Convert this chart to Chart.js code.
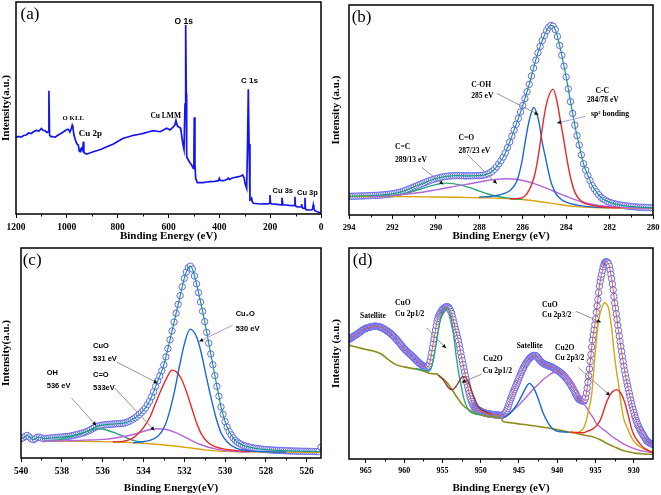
<!DOCTYPE html>
<html lang="en">
<head>
<meta charset="UTF-8" />
<meta name="viewport" content="width=device-width, initial-scale=1.0" />
<title>XPS spectra (a)-(d)</title>
<script src="https://cdn.jsdelivr.net/npm/chart.js"></script>
<style>
  body { margin: 0; background: #fff; }
  #fig { position: relative; width: 661px; height: 495px; overflow: hidden; background: #fff; }
  #fig canvas { position: absolute; }
</style>
</head>
<body>
<div id="fig">
  <canvas id="chartA" width="330" height="243" style="left:0;top:0;width:330px;height:243px"></canvas>
  <canvas id="chartB" width="331" height="243" style="left:330px;top:0;width:331px;height:243px"></canvas>
  <canvas id="chartC" width="330" height="252" style="left:0;top:243px;width:330px;height:252px"></canvas>
  <canvas id="chartD" width="331" height="252" style="left:330px;top:243px;width:331px;height:252px"></canvas>
</div>

<script>
// ---------- data (intensity in arbitrary units) ----------

// (a) survey scan, [binding energy, intensity]
const surveyScan = [
  [1200,76.5],[1190,77.5],[1180,76.8],[1170,78.5],[1160,79],[1150,81],[1140,80.5],[1130,82.5],[1120,83.5],[1110,83],
  [1100,85.5],[1095,84],[1090,83.5],[1085,83],[1078,81.5],[1073,82.5],[1070.5,123.3],[1068,79],[1063,77.3],[1055,77.5],
  [1046,76.7],[1037,78.5],[1027,80],[1017,81.5],[1007,83.3],[1000,84.5],[994,84.7],[988,82],[983,85],[979,88.7],
  [976,86],[972,79],[968,75.5],[964,72.3],[960,70],[955,69],[951,63],[948,62.3],[945,65],[942,66],
  [938,64],[935,72.3],[933,62],[929.8,60.7],[922,60],[910,61],[896,62.3],[880,63.5],[865,64.8],[856,65.7],
  [840,67.5],[817,70],[800,72.5],[790,74],[778,75.7],[760,77],[738,78.7],[720,79.5],[699,80.7],[680,82],
  [660,83.3],[640,82.5],[633,82.3],[620,84],[607,85.7],[594,84],[585,86],[575,89],[570.6,93.3],[565,88],
  [561,87.3],[552,85.7],[548,78],[544,70.7],[539,64.7],[535,110],[532.4,189],[530,120],[528.5,57.3],[522,54],
  [515,51],[509,49],[502.5,45.7],[500,60],[498.6,96.7],[496,50],[493,35.7],[486.7,31.3],[475,31.5],[463,31.3],
  [450,32],[436.8,32.3],[420,32.5],[404,33.3],[400,35.7],[397,33.5],[384.5,33.3],[370,34.5],[365,36],[360,34.5],
  [351.5,35.7],[340,36.5],[325,37.3],[315,38],[308,39],[302,36],[299,30.7],[292.5,25.7],[289,70],[286,124.7],
  [283,70],[279.5,14],[276,14.5],[273,15.7],[270,12],[266.5,10.7],[255,10.5],[240,10],[220,10.2],[207,10],
  [203,11],[200.8,19],[198.5,10.5],[194,10],[180,9.8],[165,9.3],[157,9.2],[153.6,16.3],[150,9.2],[140,9],
  [125,8.6],[109,8.3],[104.5,9],[102.5,17.3],[100.5,8],[95.8,7.3],[85,7],[78,7.2],[76,10],[74,6.5],
  [69.8,5.7],[65,6],[63,16.3],[61,5],[56.4,4],[45,4],[36.7,4],[33,5],[30.4,9],[28,5.5],
  [23.8,3.3],[15,2.3],[4,1.3],[0,1]
];

// (b) C 1s: measured points every 0.1 eV from 294.0 eV down
const c1sStart = 294.0, c1sStep = 0.1;
const c1sMeasured = [
  19.0,19.0,19.1,19.1,19.2,19.3,19.3,19.4,19.5,19.6,
  19.7,19.8,19.9,20.0,20.1,20.3,20.5,20.7,20.9,21.2,
  21.5,21.9,22.4,22.9,23.5,24.2,25.0,25.8,26.7,27.6,
  28.5,29.4,30.3,31.2,32.1,33.0,33.9,34.7,35.5,36.2,
  36.9,37.5,38.0,38.5,38.9,39.2,39.5,39.7,39.8,39.9,
  40.0,39.9,39.8,39.7,39.7,39.7,39.7,39.8,39.9,40.0,
  40.0,40.2,40.5,41.0,41.8,42.9,44.4,46.4,49.0,52.0,
  55.0,58.8,63.0,68.3,74.0,80.0,86.0,92.0,98.0,104.5,
  111,118,125,132.5,141,149,157,164.5,171,177,
  182,187,190.5,192.3,191.5,188,181,172,162,151,
  140,128,115,103,91,80.5,71,61,52,45.5,
  40,35,30,26.5,23.5,20.5,18,16.4,15,13.8,
  12.8,12.1,11.5,11,10.5,10.1,9.7,9.4,9.1,8.8,
  8.6,8.4,8.2,8.0,7.9,7.8,7.7,7.6,7.5,7.4,
  7.3
];
const c1sBackground = [[294,18.7],[292,18.7],[290,18.3],[289,18],[288,17.5],[287,17],[286.5,16.3],[286,15.7],[285.5,14.5],[285,13],[284.5,11.3],[284,9.7],[283.5,8.5],[283,7.7],[282,7.3],[281,7],[280,6.8]];
const c1sCeqC = [[292.5,19.2],[292,19.8],[291.5,21.5],[291,24.3],[290.5,27.8],[290,30.8],[289.6,32.3],[289.2,31.8],[288.8,30],[288.4,27.5],[288,24.3],[287.6,21.3],[287.2,19],[286.8,17.5],[286.4,16.5],[286,15.8]];
const c1sCeqO = [[293,18.8],[292,19.7],[291,22],[290,25.5],[289,29.5],[288,33.5],[287.5,35.5],[287,36.5],[286.7,36.7],[286.3,36.2],[286,35],[285.5,32],[285,28],[284.5,23.5],[284,19],[283.5,14.8],[283,11.7],[282.5,9.6],[282,8.4],[281.5,7.7],[281,7.3],[280,7]];
const c1sCOH = [[288,18.2],[287.5,18.8],[287.2,19.8],[286.88,21.7],[286.57,25],[286.26,35],[286.03,55],[285.88,75],[285.71,95],[285.49,109],[285.26,95],[285.11,75],[284.92,55],[284.72,35],[284.55,25],[284.42,20],[284.2,15.5],[284,13],[283.5,10],[283,8.5],[282.5,7.8],[282,7.3]];
const c1sCC = [[286.6,16.5],[286.25,16.8],[285.95,18.3],[285.71,25],[285.48,38],[285.32,55],[285.18,75],[285.03,98],[284.88,115],[284.6,127.7],[284.42,115],[284.26,95],[284.1,75],[283.95,55],[283.8,38],[283.57,21.7],[283.26,13.3],[282.85,10],[282.4,8.3],[282,7.5],[281.5,7.2]];

// (c) O 1s: measured points every 0.1 eV from 540.0 eV down
const o1sStart = 540.0, o1sStep = 0.1;
const o1sMeasured = [
  19.7,20.5,22.0,23.0,21.5,19.5,18.7,19.5,21.0,21.3,
  20.5,19.7,19.8,20.0,20.2,20.4,20.6,20.8,21.0,21.2,
  21.4,21.6,21.8,22.0,22.3,22.7,23.2,23.7,24.2,24.7,
  25.3,26.0,26.8,27.7,28.7,29.8,31.0,32.0,32.7,33.2,
  33.5,33.8,34.0,34.2,34.4,34.6,34.8,34.9,35.0,35.2,
  35.4,35.8,36.5,37.4,38.5,39.7,41.1,42.7,44.4,46.3,
  48.5,51.0,54.5,58.0,62.5,67.5,73.0,78.5,83.5,89.0,
  95,103,111.5,120.5,129.5,138.5,147.5,156.5,165.5,174.5,
  183,189.5,194,195.5,192.5,185.5,177.5,168.5,159,149.5,
  139,128,117,106,95,84,73,63,52,44.5,
  37,31.5,27,23.5,20.5,18,16.2,14.8,13.7,12.8,
  12.2,11.6,11.1,10.6,10.2,9.8,9.5,9.2,9.0,8.8,
  8.6,8.4,8.3,8.1,8.0,7.9,7.8,7.7,7.6,7.5,
  7.4,7.3,7.2,7.2,7.1,7.0,7.0,6.9,6.9,6.8,
  6.8,6.7,6.7,6.6,6.6,6.5,6.5,11
];
const o1sBackground = [[538.9,17.3],[537,17],[536,16.7],[535,16],[534,15],[533,13.3],[532.5,12.3],[532,11],[531.5,9.7],[531,8.3],[530.5,7.3],[530,6.7],[529,6.3],[527,6],[525.3,5.7]];
const o1sOH = [[538.9,17.3],[538.2,18.5],[537.76,20.7],[537.3,23],[536.94,25.7],[536.6,28.2],[536.3,29.7],[536,29.5],[535.64,27.3],[535.3,24.8],[535,22.3],[534.7,19.5],[534.5,18],[534.2,16.6],[534,16]];
const o1sCeqO = [[538.9,17.3],[537.76,17.5],[536.9,18.2],[536.13,18.7],[535.3,20.7],[534.5,24],[533.85,28],[533.4,29.8],[532.88,29],[532.39,25.7],[531.9,20.7],[531.25,14],[530.44,9],[529.6,6.7],[528.8,6]];
const o1sCuO = [[535.5,16.3],[535,17],[534.6,19.5],[534.3,24],[534,31],[533.7,41],[533.4,56],[533.1,71],[532.85,82],[532.6,89.5],[532.4,88],[532.15,81],[531.9,68],[531.65,52],[531.4,36],[531.15,24],[530.85,16],[530.5,11.5],[530,9],[529.3,7.3],[528.5,6.5]];
const o1sCu2O = [[534.5,15.5],[534.18,16.3],[533.69,18],[533.28,22.3],[532.96,32.3],[532.72,47.3],[532.47,69],[532.23,94],[531.98,117.3],[531.71,131.3],[531.41,124],[531.17,107.3],[530.93,84],[530.68,60.7],[530.44,40.7],[530.2,25.7],[529.87,15.7],[529.46,10],[528.8,7.3],[528,6.3],[527,6]];

// (d) Cu 2p: measured points every 0.1 eV from 967.2 eV down
const cu2pStart = 967.2, cu2pStep = 0.1;
const cu2pMeasured = [
  120.7,121.3,121.8,122.3,122.8,123.3,123.8,124.3,124.8,125.2,
  125.7,126.2,126.8,127.4,128.0,128.6,129.2,129.7,130.2,130.7,
  131.1,131.5,131.9,132.2,132.5,132.7,132.9,133.1,133.3,133.5,
  133.7,133.8,133.9,134.0,134.0,134.0,133.9,133.8,133.7,133.5,
  133.3,133.0,132.7,132.4,132.0,131.6,131.2,130.7,130.2,129.7,
  129.2,128.7,128.1,127.5,126.9,126.2,125.5,124.8,124.0,123.2,
  122.4,121.5,120.7,119.8,118.9,118.0,117.1,116.1,115.2,114.2,
  113.3,112.3,111.5,110.7,109.9,109.1,108.3,107.6,106.9,106.2,
  105.6,104.9,104.2,103.5,102.7,101.9,101.1,100.3,99.5,98.7,
  98.0,97.3,96.6,96.0,95.4,94.8,94.3,93.8,93.3,92.9,
  92.6,92.4,92.5,93.0,94.0,96.0,99.0,103.0,107.5,112.3,
  116.8,121.3,125.7,130.2,134.6,139.0,141.8,144.0,145.8,147.3,
  148.6,149.8,150.8,151.6,152.3,152.9,153.3,153.6,153.7,153.6,
  153.0,152.0,150.7,149.0,147.0,144.0,141.0,137.5,134.0,131.0,
  128.0,125.0,122.0,119.0,115.0,111.0,107.0,103.0,99.2,95.4,
  91.6,87.8,84.0,80.2,76.5,73.0,69.6,66.4,63.4,60.7,
  58.2,56.0,54.3,53.0,52.0,51.3,50.8,50.3,49.9,49.5,
  49.1,48.7,48.3,47.9,47.5,47.1,46.8,46.5,46.3,46.1,
  45.9,45.7,45.5,45.4,45.3,45.2,45.1,45.0,44.9,44.8,
  44.7,44.6,44.5,44.4,44.3,44.2,44.1,44.0,44.0,44.0,
  44.2,44.5,45.0,45.7,46.5,47.5,49.0,51.0,53.2,55.6,
  58.0,60.2,62.3,64.3,66.3,68.3,70.2,72.1,73.9,75.7,
  77.6,79.6,81.6,83.5,85.4,87.2,89.0,90.7,92.3,93.8,
  95.2,96.5,97.7,98.8,99.8,100.8,101.7,102.5,103.2,103.8,
  104.2,104.5,104.6,104.5,104.2,103.7,102.9,101.9,100.8,99.8,
  98.9,98.1,97.4,96.8,96.3,95.9,95.5,95.1,94.8,94.5,
  94.2,93.9,93.6,93.3,93.0,92.7,92.3,91.9,91.4,90.9,
  90.4,89.9,89.4,88.9,88.4,87.9,87.3,86.7,86.0,85.3,
  84.6,83.8,82.9,82.0,81.0,80.0,79.0,78.0,76.9,75.7,
  74.4,73.1,71.7,70.3,68.8,67.3,65.8,64.3,62.8,61.4,
  60.5,59.9,59.5,59.1,58.7,58.4,58.3,58.6,60.0,62.5,
  66.5,71.5,77.5,84.0,91.0,98.5,105.5,113.0,120.0,125.5,
  130.5,135.5,141.5,148.0,154.5,161.0,168.0,174.5,179.5,183.5,
  186.5,190.5,194.0,196.5,198.2,199.0,199.2,198.8,198.0,197.0,
  194.5,190.7,186.5,182.0,176.5,170.7,164.0,157.5,152.0,146.5,
  141.0,135.0,129.5,124.0,118.5,113.5,108.5,103.5,98.5,93.5,
  89.0,85.0,81.0,77.0,73.5,70.0,66.5,63.0,59.5,56.0,
  53.0,50.0,47.0,44.0,41.5,39.0,37.0,35.0,33.0,31.3,
  29.7,28.3,27.0,25.7,24.4,23.2,22.0,20.5,19.3,18.4,
  17.6,17.0,16.5,16.0,15.6,15.3,15.0,14.8,14.6,14.4
];
const cu2pBackground = [[967.2,115],[966,112.5],[965,110.5],[964,109],[963,106],[962,100],[961,95],[960,93],[959,91.5],[958.4,90.7],[957.5,88.8],[956.6,86.3],[955.7,85.7],[955.3,83],[954.4,77.3],[953.1,62.3],[952.3,54],[951.4,49],[950.5,46],[949.7,44],[948.8,43],[947.3,40.7],[947.1,38],[946.5,37],[945.3,35.7],[944,34.5],[942.7,33],[941.4,31.5],[940.1,29.7],[938.8,27.7],[937.5,25.7],[936.4,24],[935.3,22.3],[934.4,19.5],[933.5,15.7],[932.6,12.5],[931.8,9.7],[930.7,7.3],[929.6,5.7],[928.5,5],[927.5,4.7]];
const cu2pCuO12 = [[958.5,91.5],[957.5,89.5],[956.8,88.5],[956.5,91],[956.2,100],[955.9,113],[955.6,127],[955.3,140],[955,148.5],[954.7,151.5],[954.4,152.5],[954.1,149.5],[953.8,140],[953.5,123],[953.2,104],[952.9,88],[952.5,72],[952.2,61],[951.8,52.5],[951.4,48],[951,46],[950.5,45],[950,44.5]];
const cu2pCu2O12 = [[955.5,84.5],[955,81],[954.6,76.5],[954.2,72],[953.7,70],[953.3,72.5],[952.9,77.3],[952.6,81.5],[952.3,83],[952,82.5],[951.8,80.7],[951.5,75.5],[951.2,69],[950.8,61],[950.5,55.7],[950.1,51],[949.7,49],[949.2,47],[948.5,45]];
const cu2pSatA = [[947,42],[946.5,44],[946,47.5],[945.5,52.5],[945,58.5],[944.6,64.5],[944.2,70.5],[943.9,74.5],[943.65,76.3],[943.4,75],[943.1,72],[942.8,67],[942.5,61],[942.2,54],[941.9,47.5],[941.6,42.3],[941.2,36.5],[940.8,32],[940.3,29],[939.8,27.8],[939.2,27.3],[938.5,27]];
const cu2pSatB = [[947.3,40.7],[946.6,44],[946,47.5],[945.2,53],[944.4,59.5],[943.7,65.5],[943.1,70.7],[942.4,76],[941.8,80.5],[941.1,84.5],[940.5,87.3],[940,88],[939.5,87.5],[939,85.5],[938.5,81.5],[938,76.5],[937.5,70],[937,63.5],[936.6,57],[936.1,51],[935.7,46],[935.3,41.5],[934.9,36],[934.2,31],[933.5,27],[932.9,23],[932.2,19.5],[931.2,14.5],[930.2,11.3],[929.4,9],[928.5,7.5],[927.5,6.3]];
const cu2pCuO32 = [[938,26],[937.5,26.3],[937,28],[936.6,31],[936.2,39],[935.9,50],[935.5,65.7],[935.3,84],[935.1,102.3],[934.9,120],[934.7,135.7],[934.45,146],[934.2,152.3],[934,156],[933.8,158],[933.55,156],[933.3,152.3],[933.1,143],[932.9,132.3],[932.7,117],[932.5,102.3],[932.25,88],[932,75.7],[931.8,63],[931.6,52.3],[931.3,40],[930.9,32.3],[930.5,25],[930.1,19],[929.5,14],[928.8,10.7],[928.1,8.5],[927.5,7.3]];
const cu2pCu2O32 = [[938.3,27.3],[937.5,26.8],[936.6,26.5],[935.9,28.5],[935.3,30.7],[934.8,34.5],[934.4,39],[934.1,45],[933.8,52.3],[933.5,58.5],[933.1,65],[932.7,68.5],[932.24,70],[931.9,68.5],[931.6,65],[931.2,57.5],[930.9,49],[930.6,40],[930.3,30.7],[929.9,23],[929.4,17.3],[929,13.5],[928.6,10.7],[928,8],[927.5,6.3]];

// ---------- styling ----------
const SERIF = '"Liberation Serif", "Times New Roman", serif';
const SANS = '"Liberation Sans", Arial, sans-serif';
const CIRCLE = '#6464f0';
const FIT = '#17998a';
const GREEN = '#2ca67b';
const PURPLE = '#b466d8';
const BLUE = '#1b68d3';
const RED = '#e8282b';
const GOLD = '#d9a40c';
const OLIVE = '#8e8e1c';
const BROWN = '#8a3a3a';
const GRAY = '#8a8a8a';
const LAV = '#a392da';

Chart.defaults.color = '#000';
Chart.defaults.font.family = SERIF;

const pts = arr => arr.map(([x, y]) => ({ x, y }));
const scan = (start, step, ys) => ys.map((y, i) => ({ x: +(start - i * step).toFixed(2), y }));

function curve(data, color, width) {
  return { data, borderColor: color, borderWidth: width || 1.4, pointRadius: 0,
    cubicInterpolationMode: 'monotone', fill: false, order: 1 };
}
// open circles: white inside, drawn below the fitted lines
function circles(data) {
  return { data, showLine: false, pointRadius: 3.2, pointBorderWidth: 1,
    pointBorderColor: CIRCLE, pointBackgroundColor: '#ffffff', order: 5 };
}

function drawArrow(ctx, x1, y1, x2, y2, color) {
  ctx.strokeStyle = color; ctx.lineWidth = 0.9;
  ctx.beginPath(); ctx.moveTo(x1, y1); ctx.lineTo(x2, y2); ctx.stroke();
  const a = Math.atan2(y2 - y1, x2 - x1), L = 4.5;
  ctx.fillStyle = '#111';
  ctx.beginPath();
  ctx.moveTo(x2, y2);
  ctx.lineTo(x2 - L * Math.cos(a - 0.45), y2 - L * Math.sin(a - 0.45));
  ctx.lineTo(x2 - L * Math.cos(a + 0.45), y2 - L * Math.sin(a + 0.45));
  ctx.closePath(); ctx.fill();
}

// frame box, minor ticks, panel letter and peak labels
function framePlugin(p) {
  return {
    id: 'frame',
    afterDraw(chart) {
      const { ctx, chartArea: a } = chart;
      const xs = chart.scales.x, ys = chart.scales.y;
      ctx.save();
      ctx.strokeStyle = '#000'; ctx.lineWidth = 1;
      ctx.beginPath();
      for (let k = Math.ceil(xs.min / p.minor); k * p.minor <= xs.max; k++) {
        const v = k * p.minor;
        if (v <= xs.min + 1e-6 || v >= xs.max - 1e-6) continue;
        if (Math.abs(v / p.major - Math.round(v / p.major)) < 1e-6) continue;
        const px = Math.round(xs.getPixelForValue(v)) + 0.5;
        ctx.moveTo(px, a.bottom); ctx.lineTo(px, a.bottom + 2.5);
      }
      ctx.stroke();
      ctx.lineWidth = 1.5;
      ctx.strokeRect(a.left, a.top, a.right - a.left, a.bottom - a.top);

      p.arrows.forEach(([e1, v1, e2, v2, col]) =>
        drawArrow(ctx, xs.getPixelForValue(e1), ys.getPixelForValue(v1), xs.getPixelForValue(e2), ys.getPixelForValue(v2), col));

      ctx.fillStyle = '#000';
      ctx.textBaseline = 'middle';
      p.notes.forEach(([t, e, v, font, align]) => {
        ctx.font = font; ctx.textAlign = align || 'left';
        ctx.fillText(t, xs.getPixelForValue(e), ys.getPixelForValue(v));
      });
      ctx.font = '17px ' + SERIF; ctx.textAlign = 'left';
      ctx.fillText(p.letter, a.left + p.letterDx, a.top + p.letterDy);
      ctx.restore();
    }
  };
}

function buildPanel(id, p, datasets) {
  return new Chart(document.getElementById(id), {
    type: 'line',
    data: { datasets },
    options: {
      responsive: false,
      animation: false,
      events: [],
      devicePixelRatio: 1,
      layout: { padding: { top: p.padTop, right: p.padRight, left: 0, bottom: 0 } },
      plugins: { legend: { display: false }, tooltip: { enabled: false } },
      scales: {
        x: {
          type: 'linear', reverse: true, min: p.xMin, max: p.xMax,
          afterFit: s => { s.height = p.xH; s.paddingLeft = 0; s.paddingRight = 0; },
          ticks: { stepSize: p.major, includeBounds: false, autoSkip: false, maxRotation: 0, padding: 3.5,
            color: '#000', font: { family: SERIF, size: p.tickSize, weight: 'bold' }, callback: v => String(v) },
          grid: { drawOnChartArea: false, tickLength: 4, tickColor: '#000', tickWidth: 1 },
          border: { display: false },
          title: { display: true, text: p.xTitle, color: '#000', padding: 0,
            font: { family: SERIF, size: 11, weight: 'bold', lineHeight: 1.2 } }
        },
        y: {
          type: 'linear', min: 0, max: p.yMax,
          afterFit: s => { s.width = p.yW; },
          ticks: { display: false },
          grid: { display: false },
          border: { display: false },
          title: { display: true, text: p.yTitle, color: '#000', padding: 0,
            font: { family: SERIF, size: 11, weight: 'bold', lineHeight: 1.2 } }
        }
      }
    },
    plugins: [framePlugin(p)]
  });
}

const fSans = s => 'bold ' + s + 'px ' + SANS;
const fSerif = s => 'bold ' + s + 'px ' + SERIF;

// (a)
buildPanel('chartA', {
  padTop: 2, padRight: 9, yW: 16, xH: 29, xMin: 0, xMax: 1200, yMax: 212,
  major: 200, minor: 100, tickSize: 9.5,
  xTitle: 'Binding Energy (eV)', yTitle: 'Intensity(a.u.)',
  letter: '(a)', letterDx: 4.5, letterDy: 13,
  notes: [
    ['O 1s', 540, 192.3, fSans(8.5), 'center'],
    ['C 1s', 281.4, 133.3, fSans(8), 'center'],
    ['Cu LMM', 611, 98.3, fSerif(7.5), 'center'],
    ['O KLL', 974.6, 95.7, fSerif(6.8), 'center'],
    ['Cu 2p', 907, 80.7, fSerif(9), 'center'],
    ['Cu 3s', 150.4, 23, fSans(7.5), 'center'],
    ['Cu 3p', 53.3, 21.3, fSans(7.5), 'center']
  ],
  arrows: []
}, [
  { data: pts(surveyScan), borderColor: '#1414ee', borderWidth: 1.7, pointRadius: 0, tension: 0, fill: false }
]);

// (b)
buildPanel('chartB', {
  padTop: 2, padRight: 8, yW: 19, xH: 28, xMin: 280, xMax: 294, yMax: 213,
  major: 2, minor: 1, tickSize: 8.5,
  xTitle: 'Binding Energy (eV)', yTitle: 'Intensity (a.u.)',
  letter: '(b)', letterDx: 2.7, letterDy: 12.3,
  notes: [
    ['C-OH', 288.37, 132.3, fSerif(7.6)], ['285 eV', 288.37, 121, fSerif(7.6)],
    ['C-C', 282.65, 126, fSerif(7.6)], ['284/78 eV', 283.04, 116.7, fSerif(7.6)],
    ['sp\u00b2 bonding', 282.85, 102.3, fSerif(7.6)],
    ['C=O', 288.96, 77.7, fSerif(7.6)], ['287/23 eV', 288.96, 65, fSerif(7.6)],
    ['C=C', 291.88, 69.3, fSerif(7.6)], ['289/13 eV', 291.88, 55.7, fSerif(7.6)]
  ],
  arrows: [
    [287.19, 123.3, 285.27, 101.7, GRAY], [283.11, 100, 284.42, 93.3, LAV],
    [288.57, 61.7, 287.19, 31.7, GRAY], [290.65, 48.3, 289.65, 31, GRAY]
  ]
}, [
  curve(scan(c1sStart, c1sStep, c1sMeasured), FIT, 1.2),
  curve(pts(c1sCC), RED),
  curve(pts(c1sCOH), BLUE),
  curve(pts(c1sCeqO), PURPLE),
  curve(pts(c1sCeqC), GREEN),
  curve(pts(c1sBackground), GOLD),
  circles(scan(c1sStart, c1sStep, c1sMeasured))
]);

// (c)
buildPanel('chartC', {
  padTop: 1, padRight: 9, yW: 21, xH: 37, xMin: 525.3, xMax: 540, yMax: 214,
  major: 2, minor: 1, tickSize: 9.5,
  xTitle: 'Binding Energy(eV)', yTitle: 'Intensity(a.u.)',
  letter: '(c)', letterDx: 1.7, letterDy: 12.7,
  notes: [
    ['Cu\u2082O', 529.48, 146.3, fSans(7.5)], ['530 eV', 529.48, 132, fSans(7.5)],
    ['CuO', 536.47, 114.7, fSans(7.5)], ['531 eV', 536.47, 100.7, fSans(7.5)],
    ['C=O', 536.47, 84.7, fSans(7.5)], ['533eV', 536.47, 71.3, fSans(7.5)],
    ['OH', 538.74, 87, fSans(7.5)], ['536 eV', 538.74, 73.7, fSans(7.5)]
  ],
  arrows: [
    [529.64, 135.3, 531.27, 118.7, LAV], [535.33, 98, 533.3, 76.3, GRAY],
    [535.41, 71.3, 533.46, 28, GRAY], [537.53, 61.3, 536.31, 33, GRAY]
  ]
}, [
  curve(scan(o1sStart, o1sStep, o1sMeasured), FIT, 1.2),
  curve(pts(o1sCu2O), BLUE),
  curve(pts(o1sCuO), RED),
  curve(pts(o1sCeqO), PURPLE),
  curve(pts(o1sOH), GREEN),
  curve(pts(o1sBackground), GOLD),
  circles(scan(o1sStart, o1sStep, o1sMeasured))
]);

// (d)
buildPanel('chartD', {
  padTop: 3, padRight: 8, yW: 19, xH: 36, xMin: 927.5, xMax: 967.2, yMax: 213,
  major: 5, minor: 2.5, tickSize: 8,
  xTitle: 'Binding Energy (eV)', yTitle: 'Intensity (a.u.)',
  letter: '(d)', letterDx: 3.7, letterDy: 12.3,
  notes: [
    ['Satellite', 965.76, 144, fSerif(7.5)],
    ['CuO', 961.19, 157.3, fSerif(7.6)], ['Cu 2p1/2', 961.19, 146.3, fSerif(7.6)],
    ['Cu2O', 949.66, 100.7, fSerif(7.6)], ['Cu 2p1/2', 949.74, 89, fSerif(7.6)],
    ['Satellite', 945.3, 114, fSerif(7.5)],
    ['CuO', 942.0, 155.7, fSerif(7.6)], ['Cu 2p3/2', 942.0, 145, fSerif(7.6)],
    ['Cu2O', 940.3, 112.3, fSerif(7.6)], ['Cu 2p3/2', 940.3, 101.7, fSerif(7.6)]
  ],
  arrows: [
    [957.05, 132.3, 954.53, 111.7, GRAY], [949.87, 85.7, 952.48, 77.3, GRAY],
    [937.55, 149, 934.29, 138, GRAY], [937.25, 92.3, 933.11, 64, GRAY]
  ]
}, [
  curve(scan(cu2pStart, cu2pStep, cu2pMeasured), '#e4572e', 1),
  curve(pts(cu2pCu2O32), RED),
  curve(pts(cu2pCuO32), GOLD),
  curve(pts(cu2pSatA), BLUE),
  curve(pts(cu2pSatB), PURPLE),
  curve(pts(cu2pCu2O12), BROWN),
  curve(pts(cu2pCuO12), GREEN),
  curve(pts(cu2pBackground), OLIVE, 1.6),
  circles(scan(cu2pStart, cu2pStep, cu2pMeasured))
]);
</script>
</body>
</html>
